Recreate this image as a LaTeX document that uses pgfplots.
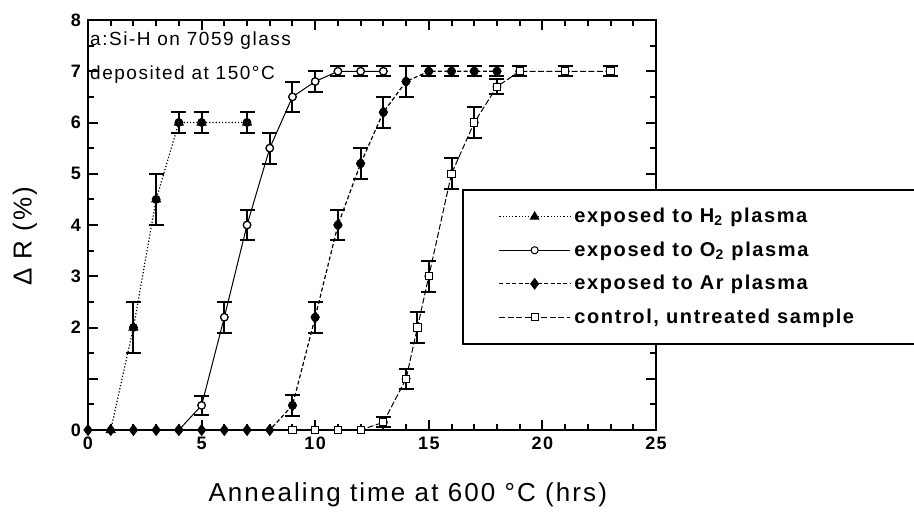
\documentclass[border=0pt]{standalone}
\usepackage{fontspec}
\setmainfont[LetterSpace=8]{Liberation Sans}
\usepackage{pgfplots}
\pgfplotsset{compat=1.18}

% error bars with wide flat caps
\pgfplotsset{
  ebar/.style={forget plot, only marks, mark=none,
    error bars/.cd, y dir=both, y explicit,
    error bar style={line width=1pt, solid, black},
    error mark=|,
    error mark options={mark size=3.75pt, line width=1pt, solid, black}},
}

\begin{document}
\begin{tikzpicture}
\begin{axis}[
  name=ax,
  scale only axis,
  width=284pt, height=205pt,
  xmin=0, xmax=25, ymin=0, ymax=8,
  xtick={0,5,10,15,20,25}, xticklabels={0,5,10,15,20,25},
  minor x tick num=4,
  ytick={0,1,2,3,4,5,6,7,8}, yticklabels={0,,2,3,4,5,6,7,8},
  minor y tick num=1,
  tick align=inside,
  major tick length=5pt, minor tick length=3pt,
  axis line style={line width=1.2pt},
  every tick/.style={black, line width=1pt},
  tick label style={font=\bfseries\fontsize{9}{10}\selectfont},
  xlabel={Annealing time at 600 °C (hrs)},
  ylabel={Δ R (\%)},
  label style={font=\fontsize{13}{15}\selectfont},
  xlabel style={at={(axis description cs:0.563,-0.159)}, anchor=center},
  ylabel style={at={(axis description cs:-0.111,0.473)}, anchor=center},
  legend style={at={(axis cs:16.46,4.70)}, anchor=north west,
    draw=black, line width=0.9pt, fill=white,
    inner xsep=18pt, inner ysep=7pt, row sep=4pt,
    font=\bfseries\fontsize{10}{12}\selectfont},
  legend cell align=left,
  legend image code/.code={\draw[line width=0.5pt, #1, mark repeat=2, mark phase=2]
    plot coordinates {(0cm,0cm) (0.62cm,0cm) (1.24cm,0cm)};},
  clip=false,
]
% error bars first, markers on top
\addplot[ebar] coordinates {(2,2) +- (0,0.5) (3,4.5) +- (0,0.5) (4,6) +- (0,0.2) (5,6) +- (0,0.2) (7,6) +- (0,0.2)};
\addplot[ebar] coordinates {(5,0.48) +- (0,0.18) (6,2.2) +- (0,0.3) (7,4.0) +- (0,0.3) (8,5.5) +- (0,0.3) (9,6.5) +- (0,0.3) (10,6.8) +- (0,0.2) (11,7) +- (0,0.1) (12,7) +- (0,0.1) (13,7) +- (0,0.1)};
\addplot[ebar] coordinates {(9,0.48) +- (0,0.2) (10,2.2) +- (0,0.3) (11,4.0) +- (0,0.3) (12,5.2) +- (0,0.3) (13,6.2) +- (0,0.3) (14,6.8) +- (0,0.3) (15,7) +- (0,0.1) (16,7) +- (0,0.1) (17,7) +- (0,0.1) (18,7) +- (0,0.1)};
\addplot[ebar] coordinates {(13,0.15) +- (0,0.1) (14,1.0) +- (0,0.2) (14.5,2.0) +- (0,0.3) (15,3.0) +- (0,0.3) (16,5.0) +- (0,0.3) (17,6.0) +- (0,0.3) (18,6.7) +- (0,0.15) (19,7) +- (0,0.1) (21,7) +- (0,0.1) (23,7) +- (0,0.1)};

\addplot[black, densely dotted, line width=0.6pt, mark=triangle*, mark size=2.4pt, mark options={solid}]
  coordinates {(1,0) (2,2) (3,4.5) (4,6) (5,6) (7,6)};
\addlegendentry{exposed to H\textsubscript{2} plasma}
\addplot[black, line width=0.5pt, mark=*, mark size=1.8pt, mark options={solid, fill=white}]
  coordinates {(4,0) (5,0.48) (6,2.2) (7,4.0) (8,5.5) (9,6.5) (10,6.8) (11,7) (12,7) (13,7)};
\addlegendentry{exposed to O\textsubscript{2} plasma}
\addplot[black, dash pattern=on 2pt off 1.2pt, line width=0.6pt, mark=diamond*, mark size=2.6pt, mark options={solid}]
  coordinates {(0,0) (1,0) (2,0) (3,0) (4,0) (5,0) (6,0) (7,0) (8,0) (9,0.48) (10,2.2) (11,4.0) (12,5.2) (13,6.2) (14,6.8) (15,7) (16,7) (17,7) (18,7)};
\addlegendentry{exposed to Ar plasma}
\addplot[black, dash pattern=on 3pt off 1.2pt, line width=0.5pt, mark=square*, mark size=1.8pt, mark options={solid, fill=white}]
  coordinates {(9,0) (10,0) (11,0) (12,0) (13,0.15) (14,1.0) (14.5,2.0) (15,3.0) (16,5.0) (17,6.0) (18,6.7) (19,7) (21,7) (23,7)};
\addlegendentry{control, untreated sample\hspace*{120pt}}

\node[anchor=base west, inner sep=0pt, font=\fontsize{9.5}{11}\selectfont] at (axis cs:0.08,7.51) {a:Si-H on 7059 glass};
\node[anchor=base west, inner sep=0pt, font=\fontsize{9.5}{11}\selectfont] at (axis cs:0.08,6.83) {deposited at 150°C};
\end{axis}
\pgfresetboundingbox
\path[use as bounding box] (ax.south west) ++(-44pt,-44pt) rectangle ++(457pt,259pt);
\end{tikzpicture}
\end{document}
